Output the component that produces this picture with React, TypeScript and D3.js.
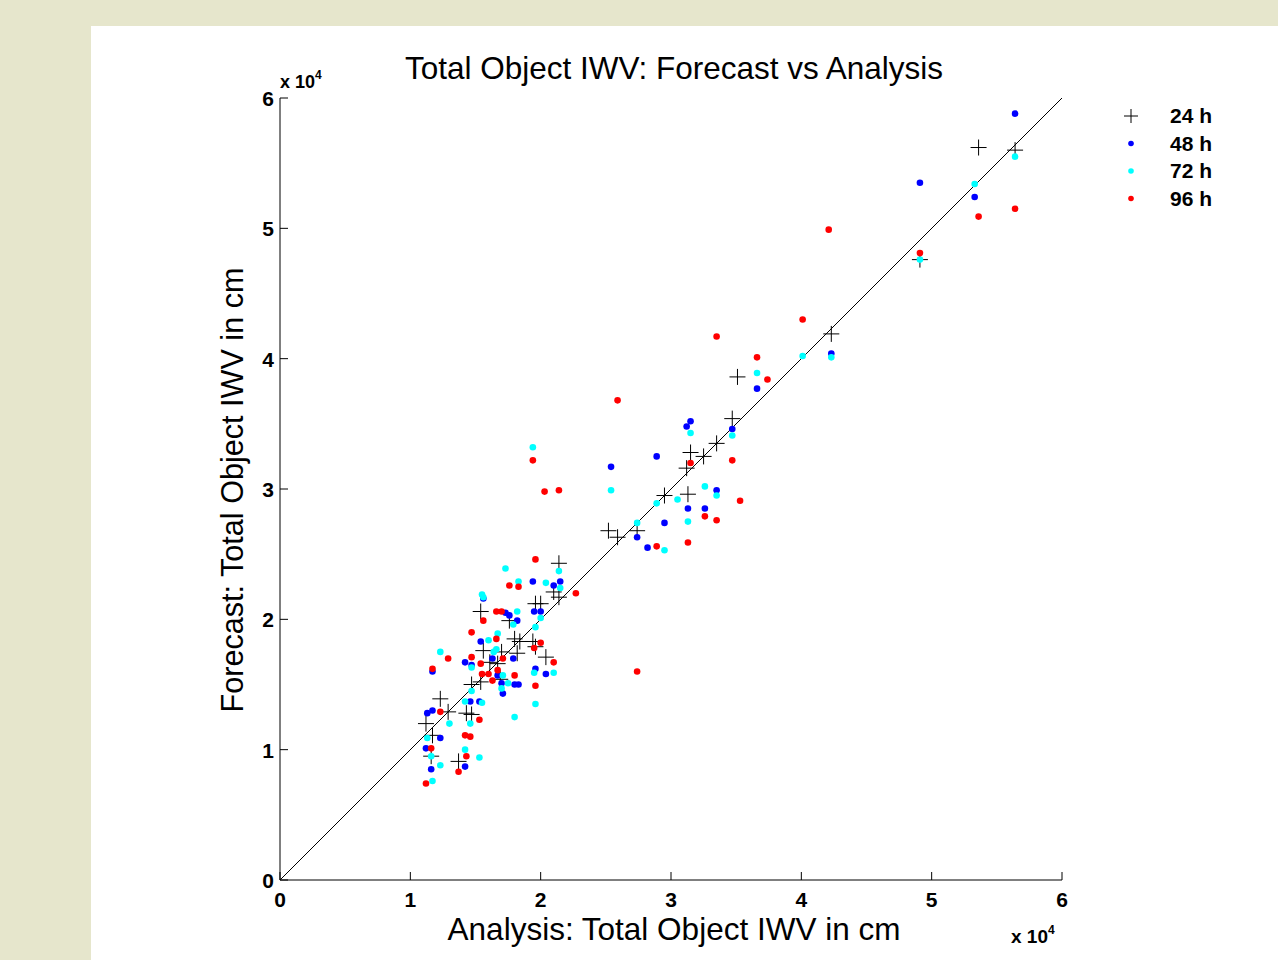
import { useEffect, useRef } from "react";
import * as d3 from "d3";

// values in cm: [analysis, forecast]
const h24: [number, number][] = [
  [56400, 56000], [53600, 56200], [49100, 47600], [42300, 41900], [35100, 38600],
  [34700, 35400], [33500, 33500], [32500, 32500], [31500, 32800], [31200, 31600],
  [31300, 29600], [29500, 29500], [27400, 26800], [25200, 26800], [25900, 26300],
  [21400, 24300], [21000, 22100], [21400, 21700], [19600, 21200], [20000, 21200],
  [15400, 20600], [17600, 19900], [18000, 18500], [18400, 18300], [19400, 18300],
  [19600, 17900], [15600, 17600], [17000, 17500], [18200, 17400], [20400, 17100],
  [16100, 16700], [16700, 16600], [14700, 15000], [15400, 15200], [16900, 15400],
  [12300, 13900], [12900, 12900], [14300, 12800], [14700, 12700], [11200, 12000],
  [11700, 11100], [11600, 9500], [13700, 9100],
];

const h48: [number, number][] = [
  [56400, 58800], [49100, 53500], [53300, 52400], [42300, 40400], [36600, 37700],
  [31500, 35200], [31200, 34800], [34700, 34600], [28900, 32500], [25400, 31700],
  [33500, 29900], [31300, 28500], [32600, 28500], [29500, 27400], [27400, 26300],
  [28200, 25500], [19400, 22900], [21000, 22600], [21500, 22900], [15600, 21600],
  [17300, 20500], [17600, 20300], [19500, 20600], [20000, 20600], [18200, 19900],
  [15400, 18300], [14200, 16700], [14700, 16500], [16300, 17000], [17900, 17000],
  [19600, 16200], [11700, 16000], [16700, 15700], [20400, 15800], [17000, 15100],
  [18000, 15000], [18300, 15000], [17100, 14300], [14600, 13700], [15300, 13700],
  [11300, 12800], [11700, 13000], [12300, 10900], [11200, 10100], [14200, 8700],
  [11600, 8500],
];

const h72: [number, number][] = [
  [56400, 55500], [53300, 53400], [49100, 47600], [40100, 40200], [42300, 40100],
  [36600, 38900], [31500, 34300], [34700, 34100], [25400, 29900], [32600, 30200],
  [33500, 29500], [28900, 28900], [30500, 29200], [31300, 27500], [27400, 27400],
  [29500, 25300], [17300, 23900], [21400, 23700], [18300, 22900], [20400, 22800],
  [21500, 22400], [15500, 21900], [15600, 21700], [18200, 20600], [20000, 20100],
  [17900, 19600], [19600, 19400], [16700, 18900], [16000, 18400], [16600, 17700],
  [16400, 17500], [12300, 17500], [14700, 16300], [19500, 15900], [17100, 15700],
  [21000, 15900], [17500, 15100], [17000, 14700], [14700, 14500], [14200, 13700],
  [15500, 13600], [19600, 13500], [18000, 12500], [14600, 12000], [13000, 12000],
  [11300, 10900], [14200, 10000], [11600, 9500], [15300, 9400], [12300, 8800],
  [11700, 7600], [19400, 33200],
];

const h96: [number, number][] = [
  [42100, 49900], [40100, 43000], [33500, 41700], [36600, 40100], [37400, 38400],
  [25900, 36800], [31500, 32000], [34700, 32200], [35300, 29100], [32600, 27900],
  [33500, 27600], [28900, 25600], [31300, 25900], [27400, 16000], [19600, 24600],
  [17600, 22600], [18300, 22500], [22700, 22000], [16600, 20600], [17000, 20600],
  [15600, 19900], [14700, 19000], [16600, 18500], [20000, 18200], [19500, 17800],
  [12900, 17000], [14700, 17100], [15400, 16600], [17100, 17000], [21000, 16700],
  [11700, 16200], [15500, 15800], [16000, 15800], [16700, 16100], [18000, 15700],
  [16300, 15300], [19600, 14900], [12300, 12900], [15300, 12300], [14200, 11100],
  [14600, 11000], [11600, 10100], [14300, 9500], [13700, 8300], [11200, 7400],
  [19400, 32200], [20300, 29800], [21400, 29900], [49100, 48100], [53600, 50900],
  [56400, 51500],
];

const ticks = [0, 10000, 20000, 30000, 40000, 50000, 60000];
const tickLabels = ["0", "1", "2", "3", "4", "5", "6"];
const legendLabels = ["24 h", "48 h", "72 h", "96 h"];
const dotColors = ["#0000ff", "#00ffff", "#ff0000"];

export default function App() {
  const ref = useRef<HTMLDivElement>(null);

  useEffect(() => {
    if (!ref.current) return;
    const W = 1278, H = 960;
    const left = 280, right = 1062, top = 98, bottom = 880;
    const font = "Liberation Sans, Arial, Helvetica, sans-serif";

    const svg = d3
      .select(ref.current)
      .html("")
      .append("svg")
      .attr("width", W)
      .attr("height", H)
      .style("display", "block")
      .style("font-family", font);

    // page background + white panel
    svg.append("rect").attr("width", W).attr("height", H).attr("fill", "#e6e6cc");
    svg.append("rect").attr("x", 91).attr("y", 26).attr("width", W - 91).attr("height", H - 26).attr("fill", "#ffffff");

    const x = d3.scaleLinear().domain([0, 60000]).range([left, right]);
    const y = d3.scaleLinear().domain([0, 60000]).range([bottom, top]);

    // axes (left + bottom only, inward ticks)
    const g = svg.append("g");
    g.append("line").attr("x1", left).attr("x2", right).attr("y1", bottom).attr("y2", bottom).attr("stroke", "#000");
    g.append("line").attr("x1", left).attr("x2", left).attr("y1", bottom).attr("y2", top).attr("stroke", "#000");
    g.selectAll(".xt").data(ticks).enter().append("line")
      .attr("x1", d => x(d)).attr("x2", d => x(d))
      .attr("y1", bottom).attr("y2", bottom - 8).attr("stroke", "#000");
    g.selectAll(".yt").data(ticks).enter().append("line")
      .attr("y1", d => y(d)).attr("y2", d => y(d))
      .attr("x1", left).attr("x2", left + 8).attr("stroke", "#000");

    g.selectAll(".xl").data(ticks).enter().append("text")
      .attr("x", d => x(d)).attr("y", bottom + 27)
      .attr("text-anchor", "middle").style("font-size", "21px").style("font-weight", "bold")
      .text((d, i) => tickLabels[i]);
    g.selectAll(".yl").data(ticks).enter().append("text")
      .attr("x", left - 6).attr("y", d => y(d) + 8)
      .attr("text-anchor", "end").style("font-size", "21px").style("font-weight", "bold")
      .text((d, i) => tickLabels[i]);

    // exponent labels
    const exp = (tx: number, ty: number, fs: number) => {
      const t = svg.append("text").attr("x", tx).attr("y", ty).style("font-size", fs + "px").style("font-weight", "bold");
      t.append("tspan").text("x 10");
      t.append("tspan").attr("dy", -9).style("font-size", "12px").text("4");
    };
    exp(280, 88, 18);
    exp(1011, 943, 19);

    // identity line
    svg.append("path")
      .datum([[0, 0], [60000, 60000]])
      .attr("d", d3.line<number[]>().x(d => x(d[0])).y(d => y(d[1])))
      .attr("stroke", "#000").attr("stroke-width", 1).attr("fill", "none");

    // 24 h crosses
    const cross = "M-8,0H8M0,-8V8";
    svg.append("g").selectAll("path").data(h24).enter().append("path")
      .attr("transform", d => `translate(${x(d[0])},${y(d[1])})`)
      .attr("d", cross).attr("stroke", "#000").attr("stroke-width", 1).attr("fill", "none");

    // 48/72/96 h dots
    [h48, h72, h96].forEach((s, i) => {
      svg.append("g").selectAll("circle").data(s).enter().append("circle")
        .attr("cx", d => x(d[0])).attr("cy", d => y(d[1]))
        .attr("r", 3.3).attr("fill", dotColors[i]);
    });

    // legend
    const lg = svg.append("g");
    legendLabels.forEach((lab, i) => {
      const ly = 116 + i * 27.5;
      if (i === 0) {
        lg.append("path").attr("transform", `translate(1131,${ly})`)
          .attr("d", "M-7,0H7M0,-7V7").attr("stroke", "#000").attr("fill", "none");
      } else {
        lg.append("circle").attr("cx", 1131).attr("cy", ly).attr("r", 2.8).attr("fill", dotColors[i - 1]);
      }
      lg.append("text").attr("x", 1170).attr("y", ly + 7)
        .style("font-size", "21px").style("font-weight", "bold").text(lab);
    });

    // titles
    svg.append("text").attr("x", 674).attr("y", 79).attr("text-anchor", "middle")
      .style("font-size", "31.5px").text("Total Object IWV: Forecast vs Analysis");
    svg.append("text").attr("x", 674).attr("y", 940).attr("text-anchor", "middle")
      .style("font-size", "31.5px").text("Analysis: Total Object IWV in cm");
    svg.append("text").attr("transform", "translate(243,490) rotate(-90)").attr("text-anchor", "middle")
      .style("font-size", "30.6px").text("Forecast: Total Object IWV in cm");
  }, []);

  return <div ref={ref} style={{ position: "absolute", left: 0, top: 0 }}></div>;
}
